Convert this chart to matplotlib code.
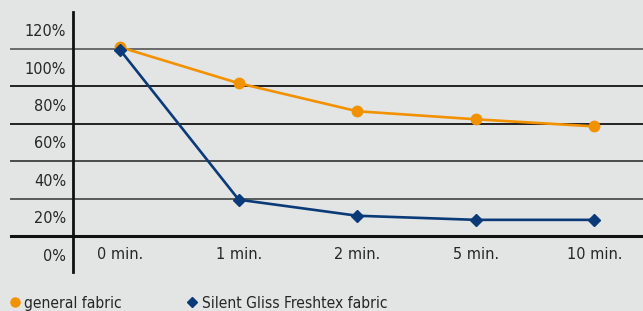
import matplotlib.pyplot as plt
from matplotlib import font_manager
from matplotlib.lines import Line2D

# data
times = ["0 min.", "1 min.", "2 min.", "5 min.", "10 min."]
general_fabric = [101, 81.7, 66.7, 62.4, 58.6]
freshtex_fabric = [99.5, 19.4, 10.8, 8.6, 8.6]
grid_values = [0, 20, 40, 60, 80, 100]
label_values = [-10, 10, 30, 50, 70, 90, 110]
label_texts = ["0%", "20%", "40%", "60%", "80%", "100%", "120%"]

BG = "#e3e4e4"
ORANGE = "#f39200"
BLUE = "#0b3a78"
TXT = "#262626"
GRID_COLORS = ["#111111", "#5a5a5a", "#4a4a4a", "#222222", "#222222", "#6a6a6a"]

# the reference uses a condensed sans; take one if it is installed
fonts = font_manager.fontManager.ttflist
names = {f.name for f in fonts}
if "Liberation Sans Narrow" in names:
    plt.rcParams["font.family"] = ["Liberation Sans Narrow", "DejaVu Sans"]
    FS, FS_LEG = 13, 12.5
elif any(f.name == "DejaVu Sans" and f.stretch == "condensed" for f in fonts):
    plt.rcParams["font.family"] = ["DejaVu Sans"]
    plt.rcParams["font.stretch"] = "condensed"
    FS, FS_LEG = 11.6, 11.2
else:
    plt.rcParams["font.family"] = ["Liberation Sans", "DejaVu Sans"]
    FS, FS_LEG = 11.6, 11.2

W, H = 643, 311
fig = plt.figure(figsize=(W / 100, H / 100), dpi=100, facecolor=BG)
left, right, top, bottom = 73, 643, 12, 272
ax = fig.add_axes([left / W, 1 - bottom / H, (right - left) / W, (bottom - top) / H])
ax.set_facecolor(BG)

ax.set_xlim(-0.397, 4.41)
ax.set_ylim(-19.3, 119.8)

for s in ["top", "right", "bottom"]:
    ax.spines[s].set_visible(False)
ax.spines["left"].set_linewidth(2)
ax.spines["left"].set_color("#111111")

# horizontal lines reach left past the vertical axis
x_start = -(left - 11) / (right - left)
for v, c in zip(grid_values, GRID_COLORS):
    ax.axhline(v, xmin=x_start, xmax=1, clip_on=False, color=c,
               lw=2.2 if v == 0 else 1.4, zorder=1)

x = list(range(len(times)))
ax.plot(x, general_fabric, color=ORANGE, lw=1.9, marker="o", ms=7.5, zorder=3)
ax.plot(x, freshtex_fabric, color=BLUE, lw=1.9, marker="D", ms=6, zorder=4)

ax.set_yticks(label_values)
ax.set_yticklabels(label_texts)
ax.tick_params(axis="y", length=0, pad=5, labelsize=FS, labelcolor=TXT)
ax.set_xticks([])
for i, t in enumerate(times):
    ax.text(i, -10, t, ha="center", va="center", fontsize=FS, color=TXT)

handles = [
    Line2D([], [], color=ORANGE, marker="o", ls="none", ms=6.5),
    Line2D([], [], color=BLUE, marker="D", ls="none", ms=5),
]
fig.legend(handles, ["general fabric", "Silent Gliss Freshtex fabric"],
           loc="lower left", bbox_to_anchor=(-0.005, -0.0435), ncol=2,
           frameon=False, fontsize=FS_LEG, handlelength=0.5, handletextpad=0.35,
           columnspacing=4.3, labelcolor=TXT)

fig.savefig("out.png", dpi=100, facecolor=BG)
